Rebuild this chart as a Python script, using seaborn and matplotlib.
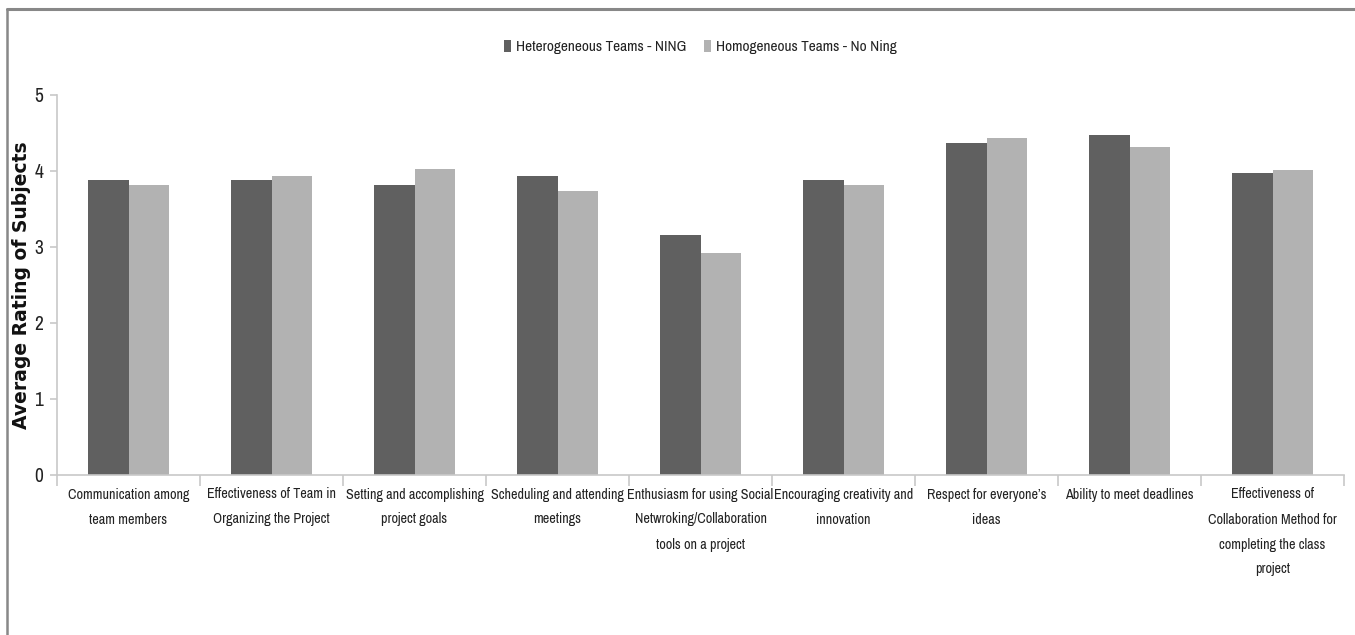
import numpy as np
import pandas as pd
import seaborn as sns
import matplotlib.pyplot as plt
from matplotlib.ticker import FixedLocator

categories = [
    "Communication among\nteam members",
    "Effectiveness of Team in\nOrganizing the Project",
    "Setting and accomplishing\nproject goals",
    "Scheduling and attending\nmeetings",
    "Enthusiasm for using Social\nNetwroking/Collaboration\ntools on a project",
    "Encouraging creativity and\ninnovation",
    "Respect for everyone\u2019s\nideas",
    "Ability to meet deadlines",
    "Effectiveness of\nCollaboration Method for\ncompleting the class\nproject",
]
series_names = ["Heterogeneous Teams - NING", "Homogeneous Teams - No Ning"]
hetero_ning = [3.88, 3.88, 3.82, 3.94, 3.16, 3.88, 4.37, 4.47, 3.98]
homo_no_ning = [3.82, 3.93, 4.02, 3.74, 2.92, 3.81, 4.44, 4.31, 4.01]
colors = ["#606060", "#b2b2b2"]

df = pd.DataFrame({
    "Category": categories * 2,
    "Team": [series_names[0]] * len(categories) + [series_names[1]] * len(categories),
    "Rating": hetero_ning + homo_no_ning,
})

sns.set_style("white")
narrow = ["Archivo Narrow", "Barlow Semi Condensed", "DejaVu Sans"]

fig = plt.figure(figsize=(13.55, 6.35), dpi=100)
ax = fig.add_axes([57 / 1355, 1 - 475 / 635, (1344 - 57) / 1355, (475 - 95) / 635])

sns.barplot(data=df, x="Category", y="Rating", hue="Team", palette=colors,
            width=0.57, saturation=1, edgecolor="none", ax=ax)

ax.set_ylim(0, 5)
ax.set_xlim(-0.5, len(categories) - 0.5)
ax.set_yticks(range(6))
ax.set_yticklabels([str(i) for i in range(6)], fontfamily=narrow, fontsize=14, color="#222222")
ax.set_xticklabels(categories, fontfamily=narrow, fontsize=10.2, linespacing=2.0, color="#222222")
ax.tick_params(axis="x", which="major", length=0, pad=9)
ax.xaxis.set_minor_locator(FixedLocator(np.arange(-0.5, len(categories), 1.0)))
ax.tick_params(axis="x", which="minor", length=8, color="#c8c8c8", width=1.2, bottom=True)
ax.tick_params(axis="y", length=5, color="#c8c8c8", width=1.2, left=True, pad=5)

for side in ["top", "right"]:
    ax.spines[side].set_visible(False)
for side in ["left", "bottom"]:
    ax.spines[side].set_color("#c8c8c8")
    ax.spines[side].set_linewidth(1.2)

ax.set_xlabel("")
ax.set_ylabel("Average Rating of Subjects", fontsize=13.5, fontweight="bold",
              fontfamily="DejaVu Sans", color="#111111")
ax.yaxis.set_label_coords(-0.0205, 0.5)

leg = ax.legend(loc="center", ncol=2, frameon=False,
                prop={"family": narrow, "size": 11}, handlelength=0.45,
                handleheight=0.9, handletextpad=0.3, columnspacing=1.2)
leg.set_bbox_to_anchor((0.5, 1 + (95 - 47) / 380), transform=ax.transAxes)
for t in leg.get_texts():
    t.set_color("#222222")

# outer frame (top and left only, as in the original)
fig.add_artist(plt.Line2D([7 / 1355, 1], [1 - 9 / 635, 1 - 9 / 635], color="#888888", lw=2.2,
                          transform=fig.transFigure))
fig.add_artist(plt.Line2D([7 / 1355, 7 / 1355], [0, 1 - 9 / 635], color="#888888", lw=1.8,
                          transform=fig.transFigure))

fig.savefig("out.png", dpi=100)
